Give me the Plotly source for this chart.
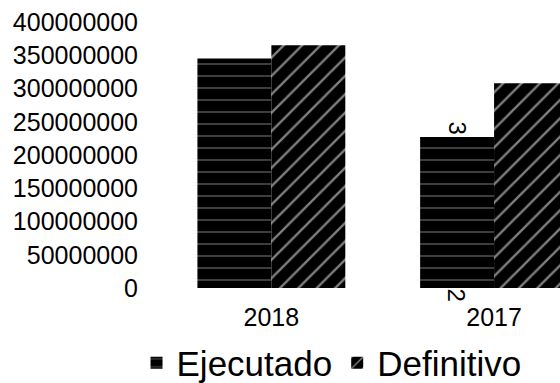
import plotly.graph_objects as go

categories = ["2018", "2017"]
ejecutado = [345000000, 227000000]
definitivo = [365000000, 308000000]
y_ticks = [0, 50000000, 100000000, 150000000, 200000000, 250000000, 300000000, 350000000, 400000000]
y_tick_labels = [str(v) for v in y_ticks]
stray_labels = ["3", "2"]

FONT = "Liberation Sans, Arial, sans-serif"

fig = go.Figure()
fig.add_trace(go.Bar(
    name="Ejecutado", x=categories, y=ejecutado,
    marker=dict(color="black", line=dict(width=0),
                pattern=dict(shape="-", bgcolor="black", fgcolor="white", size=12, solidity=0.08)),
))
fig.add_trace(go.Bar(
    name="Definitivo", x=categories, y=definitivo,
    marker=dict(color="black", line=dict(width=0),
                pattern=dict(shape="/", bgcolor="black", fgcolor="white", size=13, solidity=0.18)),
))

cat_idx = categories.index("2017")
fig.add_annotation(x=cat_idx, y=ejecutado[cat_idx], xref="x", yref="y", xshift=-37, yshift=1,
                   text=stray_labels[0], textangle=90, showarrow=False, yanchor="bottom",
                   font=dict(family=FONT, size=24, color="black"))
fig.add_annotation(x=cat_idx, y=0, xref="x", yref="y", xshift=-38, yshift=2,
                   text=stray_labels[1], textangle=90, showarrow=False, yanchor="top",
                   font=dict(family=FONT, size=24, color="black"))

fig.update_layout(
    width=560, height=383,
    margin=dict(l=159.5, r=0, t=22, b=95, pad=0, autoexpand=False),
    paper_bgcolor="white", plot_bgcolor="white",
    barmode="group", bargap=0.336, bargroupgap=0,
    font=dict(family=FONT, color="black"),
    showlegend=True,
    legend=dict(orientation="h", xref="container", yref="container",
                x=0.592, xanchor="center", y=0.052, yanchor="middle",
                font=dict(family=FONT, size=35, color="black"), itemwidth=30,
                bgcolor="rgba(0,0,0,0)"),
    xaxis=dict(type="category", range=[-0.5, 1.296], showgrid=False, showline=False,
               zeroline=False, ticks="", automargin=False,
               tickfont=dict(family=FONT, size=25, color="black"),
               ticklabelstandoff=12),
    yaxis=dict(range=[0, 400000000], tickvals=y_ticks, ticktext=y_tick_labels,
               showgrid=False, showline=False, zeroline=False, ticks="", automargin=False,
               tickfont=dict(family=FONT, size=25, color="black"),
               ticklabelstandoff=21),
)

fig.write_html(
    "out.html",
    config={"displayModeBar": False},
    post_script="document.body.style.margin='0';document.body.style.overflow='hidden';",
)
